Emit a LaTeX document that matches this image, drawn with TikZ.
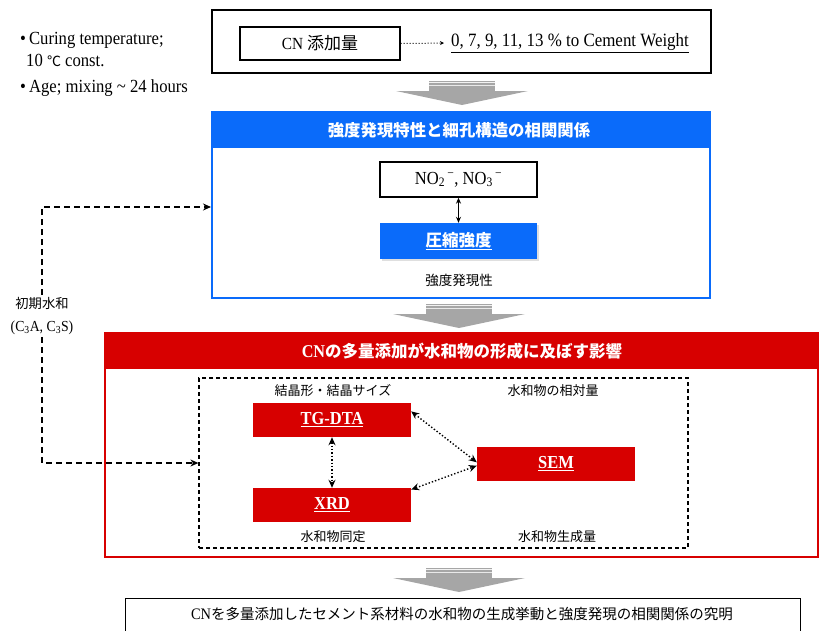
\documentclass[tikz,border=0pt]{standalone}
\usepackage{fontspec}
\setmainfont[FakeStretch=0.9]{Liberation Serif}
\newfontfamily\jp{Noto Sans CJK JP}
\usetikzlibrary{arrows.meta,calc,shadows}
\definecolor{bblue}{HTML}{0A6BFA}
\definecolor{rred}{HTML}{D70000}
\definecolor{agray}{HTML}{A6A6A6}
\tikzset{
  wbox/.style={draw=black, line width=1.3pt, fill=white, inner sep=0pt},
  redbox/.style={fill=rred, inner sep=0pt, text=white, font=\fontsize{18.3}{20}\selectfont\bfseries},
  lbl/.style={font=\jp\fontsize{13}{15}\selectfont, inner sep=1pt},
  dotarr/.style={dotted, line width=1.4pt, {Stealth[length=8pt,width=7pt]}-{Stealth[length=8pt,width=7pt]}},
  dasharr/.style={dash pattern=on 6pt off 4pt, line width=1.2pt, -{Stealth[length=8pt,width=7pt]}},
}
\newcommand{\grayarrow}[3]{% center x, top y, head y
  \fill[agray] (#1-33,#2) rectangle (#1+33,#3);
  \draw[white!85!agray, line width=1pt] (#1-33,#2+1.5) -- (#1+33,#2+1.5);
  \draw[white!75!agray, line width=0.8pt] (#1-33,#2+4) -- (#1+33,#2+4);
  \fill[agray] (#1-66,#3) -- (#1+66,#3) -- (#1,#3+14) -- cycle;
}
\begin{document}
\begin{tikzpicture}[x=1pt,y=-1pt]
\useasboundingbox (0,0) rectangle (820,630);
\begin{scope}
\clip (0,0) rectangle (820,630);

% left notes
\node[anchor=west, font=\fontsize{18.5}{20}\selectfont, inner sep=0pt] (n1) at (20,40) {\textbullet\,Curing temperature;};
\node[anchor=west, font=\fontsize{18.5}{20}\selectfont, inner sep=0pt] (n2) at (26,60) {10 {\jp\fontsize{14}{16}\selectfont ℃} const.};
\node[anchor=west, font=\fontsize{18.5}{20}\selectfont, inner sep=0pt] (n3) at (20,88) {\textbullet\,Age; mixing \textasciitilde\ 24 hours};

% top box
\node[wbox, minimum width=499pt, minimum height=63pt] (top) at (461.5,41.5) {};
\node[wbox, minimum width=160pt, minimum height=33pt, font=\fontsize{17}{19}\selectfont] (cn) at (320,43.5) {CN {\jp 添加量}};
\node[font=\fontsize{18.8}{20}\selectfont, inner sep=1pt] (pct) at (570,43) {\underline{0, 7, 9, 11, 13 \% to Cement Weight}};
\draw[dotted, line width=1pt, -{Stealth[length=4pt,width=4pt]}, shorten >=6pt] (cn.east) -- (pct.west);

\grayarrow{462}{81}{91}

% blue box
\node[draw=bblue, line width=2pt, minimum width=498pt, minimum height=186pt, inner sep=0pt] (blue) at (461,205) {};
\fill[bblue] (212,112) rectangle (710,148);
\draw[bblue, line width=2pt] (212,112) rectangle (710,298);
\node[text=white, font=\jp\fontsize{16.4}{18}\selectfont\bfseries] (bhead) at (459,130) {強度発現特性と細孔構造の相関関係};
\node[wbox, minimum width=157pt, minimum height=35pt, font=\fontsize{18.4}{20}\selectfont] (no) at (458.5,179.5) {NO\textsubscript{2}\textsuperscript{\,−}, NO\textsubscript{3}\textsuperscript{\,−}};
\node[fill=bblue, minimum width=157pt, minimum height=36pt, inner sep=0pt, text=white, drop shadow={opacity=0.25, shadow xshift=1.5pt, shadow yshift=-1.5pt}, font=\jp\fontsize{16.5}{18}\selectfont\bfseries] (comp) at (458.5,241) {\underline{圧縮強度}};
\draw[line width=1pt, {Stealth[length=6pt,width=5pt]}-{Stealth[length=6pt,width=5pt]}] (no.south) -- (comp.north);
\node[lbl, font=\jp\fontsize{13.5}{15}\selectfont] (strdev) at (459,280) {強度発現性};

\grayarrow{459}{304}{314}

% red box
\fill[rred] (105,333) rectangle (818,369);
\draw[rred, line width=2pt] (105,333) rectangle (818,557);
\node[text=white, font=\fontsize{18}{20}\selectfont\bfseries] (rhead) at (462,351) {CN{\jp\fontsize{16.5}{18}\selectfont の多量添加が水和物の形成に及ぼす影響}};
\node[draw=black, dash pattern=on 4pt off 3pt, line width=1.2pt, minimum width=489pt, minimum height=170pt, inner sep=0pt] (dbox) at (443.5,463) {};

\node[redbox, minimum width=158pt, minimum height=34pt] (tg) at (332,420) {\underline{TG-DTA}};
\node[redbox, minimum width=158pt, minimum height=34pt] (xrd) at (332,505) {\underline{XRD}};
\node[redbox, minimum width=158pt, minimum height=34pt] (sem) at (556,464) {\underline{SEM}};

\node[lbl] (l1) at (333,391) {結晶形・結晶サイズ};
\node[lbl] (l2) at (553,391) {水和物の相対量};
\node[lbl] (l3) at (333,537) {水和物同定};
\node[lbl] (l4) at (557,537) {水和物生成量};

\draw[dotarr] (tg.south) -- (xrd.north);
\draw[dotarr] ($(tg.north east)!0.25!(tg.south east)$) -- ($(sem.north west)!0.45!(sem.south west)$);
\draw[dotarr] ($(xrd.north east)!0.05!(xrd.south east)$) -- ($(sem.north west)!0.55!(sem.south west)$);

% left connector
\node[align=center, font=\fontsize{15.3}{23}\selectfont, inner sep=2pt] (init) at (42,316) {{\jp\fontsize{13.3}{15}\selectfont 初期水和}\\(C\textsubscript{3}A, C\textsubscript{3}S)};
\coordinate (c1) at (42,207);
\coordinate (c2) at (42,463);
\draw[dasharr] (init.north) -- (c1) -- (c1 -| blue.west);
\draw[dasharr] (init.south) -- (c2) -- (c2 -| dbox.west);

\grayarrow{459}{568}{578}

% bottom box
\node[wbox, minimum width=675pt, minimum height=44pt, anchor=north west] (bot) at (125,598) {};
\node[font=\fontsize{16}{18}\selectfont] (bottxt) at (462,614) {CN{\jp\fontsize{14.5}{16}\selectfont を多量添加したセメント系材料の水和物の生成挙動と強度発現の相関関係の究明}};
\end{scope}
\end{tikzpicture}
\end{document}
